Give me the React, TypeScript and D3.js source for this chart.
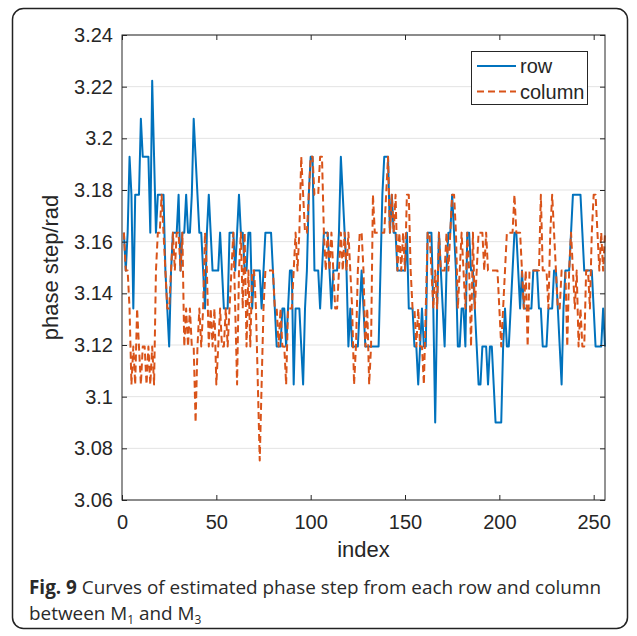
import { useRef, useEffect } from 'react'
import { select, scaleLinear, axisBottom, axisLeft, axisTop, axisRight, line } from 'd3'

// quantised phase-step levels seen in the picture
const levels = [3.0753, 3.09, 3.1047, 3.1194, 3.1341, 3.1488, 3.1635, 3.1782, 3.1929, 3.2076, 3.2223]

// level index (into levels) for index 1..256
const rowLevels = [
  6, 5, 6, 8, 7, 4, 7, 7, 7, 9, 8, 8, 8, 8, 6, 10, 8, 6, 7, 7,
  7, 7, 5, 4, 3, 5, 6, 6, 6, 7, 5, 6, 6, 7, 6, 6, 7, 9, 8, 7,
  6, 6, 5, 4, 6, 7, 6, 5, 5, 5, 5, 6, 5, 4, 4, 4, 6, 6, 6, 5,
  6, 7, 6, 6, 5, 5, 6, 6, 4, 5, 5, 5, 5, 4, 5, 6, 6, 6, 6, 5,
  4, 3, 3, 3, 4, 4, 3, 4, 5, 5, 2, 4, 4, 4, 3, 2, 4, 5, 7, 8,
  8, 5, 5, 5, 4, 5, 6, 6, 6, 5, 4, 5, 5, 5, 6, 8, 7, 6, 5, 3,
  4, 3, 3, 3, 3, 4, 5, 4, 3, 3, 3, 3, 3, 3, 3, 3, 5, 7, 8, 8,
  8, 6, 7, 6, 6, 5, 5, 5, 5, 5, 6, 4, 4, 4, 3, 3, 2, 3, 4, 3,
  3, 6, 6, 6, 4, 1, 4, 6, 5, 4, 3, 5, 6, 6, 7, 6, 5, 3, 3, 4,
  4, 3, 6, 6, 5, 5, 4, 3, 2, 2, 3, 3, 3, 2, 3, 3, 2, 1, 1, 1,
  1, 3, 4, 3, 3, 4, 5, 6, 6, 5, 4, 5, 4, 4, 4, 4, 4, 5, 5, 5,
  4, 4, 3, 3, 3, 4, 4, 4, 5, 5, 4, 3, 2, 4, 5, 5, 5, 6, 7, 7,
  7, 7, 7, 6, 5, 5, 5, 5, 5, 4, 3, 3, 3, 3, 4, 3
]

const columnLevels = [
  6, 5, 5, 4, 2, 3, 2, 4, 3, 2, 3, 3, 2, 3, 2, 3, 2, 5, 6, 6,
  7, 6, 5, 4, 4, 5, 6, 5, 6, 6, 5, 6, 3, 4, 3, 4, 3, 3, 1, 3,
  4, 3, 4, 6, 5, 3, 4, 3, 4, 2, 3, 4, 3, 3, 4, 3, 4, 5, 6, 4,
  2, 5, 6, 4, 6, 3, 5, 3, 5, 5, 4, 2, 0, 2, 4, 5, 5, 5, 5, 5,
  4, 4, 3, 4, 3, 3, 2, 4, 4, 4, 5, 6, 5, 6, 8, 7, 6, 6, 7, 8,
  8, 7, 7, 7, 8, 8, 6, 5, 6, 5, 6, 5, 4, 4, 5, 6, 5, 6, 5, 6,
  5, 4, 2, 3, 5, 6, 6, 5, 3, 4, 2, 3, 7, 6, 6, 6, 6, 6, 6, 7,
  8, 6, 7, 6, 7, 5, 6, 5, 6, 5, 7, 7, 5, 4, 4, 3, 4, 3, 3, 2,
  4, 6, 6, 5, 4, 5, 4, 6, 5, 5, 5, 6, 5, 6, 7, 7, 6, 4, 5, 6,
  5, 4, 6, 5, 3, 6, 4, 5, 6, 6, 6, 5, 6, 5, 5, 5, 5, 5, 5, 4,
  3, 4, 5, 6, 6, 6, 6, 7, 6, 6, 6, 5, 4, 5, 3, 5, 5, 5, 5, 5,
  5, 7, 5, 5, 5, 4, 6, 7, 6, 5, 4, 4, 5, 5, 5, 3, 5, 6, 5, 4,
  5, 3, 4, 3, 3, 5, 5, 4, 6, 7, 7, 6, 5, 6, 5, 6
]

const xTicks = [0, 50, 100, 150, 200, 250]
const yTicks = [3.06, 3.08, 3.1, 3.12, 3.14, 3.16, 3.18, 3.2, 3.22, 3.24]
const yTickLabels = ['3.06', '3.08', '3.1', '3.12', '3.14', '3.16', '3.18', '3.2', '3.22', '3.24']
const seriesNames = ['row', 'column']
const seriesColors = ['#0072BD', '#D95319']

const W = 637
const H = 636
const plot = { left: 122, right: 605, top: 35, bottom: 500 }
const font = '"Liberation Sans", Arial, sans-serif'

export default function App() {
  const svgRef = useRef<SVGSVGElement>(null)

  useEffect(() => {
    const svg = select(svgRef.current)
    svg.selectAll('.chart').remove()
    const g = svg.append('g').attr('class', 'chart')

    const xScale = scaleLinear().domain([0, 256]).range([plot.left, plot.right])
    const yScale = scaleLinear().domain([3.06, 3.24]).range([plot.bottom, plot.top])

    // horizontal grid
    g.selectAll('.grid')
      .data(yTicks)
      .join('line')
      .attr('class', 'grid')
      .attr('x1', plot.left)
      .attr('x2', plot.right)
      .attr('y1', (d) => yScale(d))
      .attr('y2', (d) => yScale(d))
      .attr('stroke', '#e3e3e3')
      .attr('stroke-width', 1)

    const series = [rowLevels, columnLevels]
    const myLine = line<number>()
      .x((v, i) => xScale(i + 1))
      .y((v) => yScale(levels[v]))

    series.forEach((s, si) => {
      g.append('path')
        .datum(s)
        .attr('d', myLine)
        .attr('fill', 'none')
        .attr('stroke', seriesColors[si])
        .attr('stroke-width', 2)
        .attr('stroke-linejoin', 'round')
        .attr('stroke-dasharray', si === 1 ? '7,4' : null)
    })

    const xAxis = axisBottom(xScale).tickValues(xTicks).tickSize(-5).tickPadding(15)
    const xTop = axisTop(xScale).tickValues(xTicks).tickSize(-5).tickFormat(() => '')
    const yAxis = axisLeft(yScale)
      .tickValues(yTicks)
      .tickSize(-5)
      .tickPadding(9)
      .tickFormat((d, i) => yTickLabels[i])
    const yRight = axisRight(yScale).tickValues(yTicks).tickSize(-5).tickFormat(() => '')

    const axes = [
      [xAxis, `translate(0,${plot.bottom})`],
      [xTop, `translate(0,${plot.top})`],
      [yAxis, `translate(${plot.left},0)`],
      [yRight, `translate(${plot.right},0)`],
    ] as const
    axes.forEach(([ax, tr]) => {
      const a = g.append('g').attr('transform', tr).call(ax as any)
      a.select('.domain').remove()
      a.selectAll('line').attr('stroke', '#262626')
      a.selectAll('text').attr('fill', '#262626').style('font-family', font).style('font-size', '20px')
    })

    g.append('rect')
      .attr('x', plot.left)
      .attr('y', plot.top)
      .attr('width', plot.right - plot.left)
      .attr('height', plot.bottom - plot.top)
      .attr('fill', 'none')
      .attr('stroke', '#262626')
      .attr('stroke-width', 1)

    // axis titles
    g.append('text')
      .attr('x', (plot.left + plot.right) / 2)
      .attr('y', 557)
      .attr('text-anchor', 'middle')
      .style('font-family', font)
      .style('font-size', '22px')
      .attr('fill', '#262626')
      .text('index')

    g.append('text')
      .attr('transform', `translate(58,${(plot.top + plot.bottom) / 2}) rotate(-90)`)
      .attr('text-anchor', 'middle')
      .style('font-family', font)
      .style('font-size', '22px')
      .attr('fill', '#262626')
      .text('phase step/rad')

    // legend
    const lg = g.append('g')
    lg.append('rect')
      .attr('x', 471.5)
      .attr('y', 51.5)
      .attr('width', 116)
      .attr('height', 53)
      .attr('fill', '#fff')
      .attr('stroke', '#262626')
    seriesNames.forEach((name, i) => {
      const yy = 66 + i * 25.5
      lg.append('line')
        .attr('x1', 477)
        .attr('x2', 516)
        .attr('y1', yy)
        .attr('y2', yy)
        .attr('stroke', seriesColors[i])
        .attr('stroke-width', 2)
        .attr('stroke-dasharray', i === 1 ? '7,4' : null)
      lg.append('text')
        .attr('x', 520)
        .attr('y', yy + 7)
        .style('font-family', font)
        .style('font-size', '20px')
        .attr('fill', '#262626')
        .text(name)
    })
  }, [])

  const capFont = '"Open Sans", "Noto Sans", sans-serif'

  return (
    <svg
      ref={svgRef}
      width={W}
      height={H}
      style={{ position: 'absolute', left: 0, top: 0, background: '#fff' }}
    >
      <rect x={12.5} y={8.5} width={615} height={620} rx={11} fill="#fff" stroke="#222" strokeWidth={1.5} />
      <text x={29} y={594} fontFamily={capFont} fontSize={18.9} fill="#2a2a2a">
        <tspan fontWeight="bold">Fig. 9</tspan>
        <tspan> Curves of estimated phase step from each row and column</tspan>
      </text>
      <text x={29} y={620} fontFamily={capFont} fontSize={18.9} fill="#2a2a2a">
        between M<tspan fontSize={12} dy={4}>1</tspan>
        <tspan dy={-4}> and M</tspan>
        <tspan fontSize={12} dy={4}>3</tspan>
      </text>
    </svg>
  )
}
